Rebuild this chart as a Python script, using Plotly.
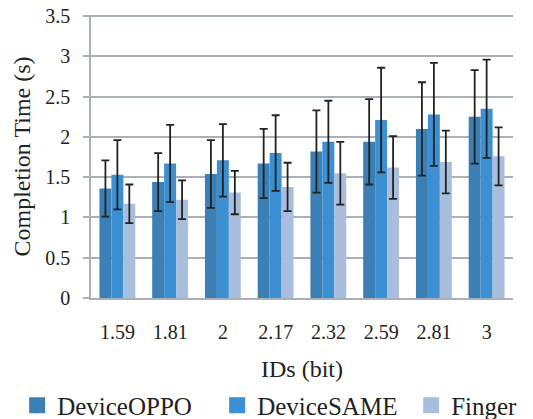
import plotly.graph_objects as go

ids = ["1.59", "1.81", "2", "2.17", "2.32", "2.59", "2.81", "3"]
oppo = [1.36, 1.44, 1.54, 1.67, 1.82, 1.94, 2.10, 2.25]
oppo_err = [0.35, 0.36, 0.42, 0.43, 0.51, 0.53, 0.58, 0.58]
same = [1.53, 1.67, 1.71, 1.80, 1.94, 2.21, 2.28, 2.35]
same_err = [0.43, 0.48, 0.45, 0.47, 0.51, 0.65, 0.64, 0.61]
finger = [1.17, 1.22, 1.31, 1.38, 1.55, 1.62, 1.69, 1.76]
finger_err = [0.24, 0.24, 0.27, 0.30, 0.39, 0.39, 0.39, 0.36]
y_ticks = [0, 0.5, 1, 1.5, 2, 2.5, 3, 3.5]
y_ticktext = ["0", "0.5", "1", "1.5", "2", "2.5", "3", "3.5"]
y_range = [0, 3.515]

names = ["DeviceOPPO", "DeviceSAME", "Finger"]
colors = ["#3b7fb5", "#3c8fd0", "#a8bedc"]
legend_widths = [155, 149, 62]
serif = "Liberation Serif, Times New Roman, serif"

fig = go.Figure()
for name, vals, errs, col in zip(names, [oppo, same, finger], [oppo_err, same_err, finger_err], colors):
    fig.add_trace(go.Bar(
        x=ids, y=vals, name=name, marker=dict(color=col, line=dict(width=0)),
        error_y=dict(type="data", array=errs, color="#222222", thickness=1.8, width=4),
        showlegend=False,
    ))
for name, col, lw in zip(names, colors, legend_widths):
    fig.add_trace(go.Scatter(
        x=[None], y=[None], mode="markers", name=name, legendwidth=lw,
        marker=dict(symbol="square", size=16, color=col),
    ))

fig.update_layout(
    width=533, height=419,
    margin=dict(l=91, r=20, t=15, b=121, autoexpand=False),
    paper_bgcolor="white", plot_bgcolor="white",
    barmode="group", bargap=0.32, bargroupgap=0,
    font=dict(family=serif, color="#222222", size=20),
    legend=dict(orientation="h", xref="paper", yref="paper",
                x=-0.175, xanchor="left", y=-0.38, yanchor="middle",
                font=dict(size=25, family=serif, color="#222222"),
                itemwidth=30, tracegroupgap=0, bgcolor="rgba(0,0,0,0)"),
    xaxis=dict(
        type="category", showline=True, linecolor="#a9b0b8", linewidth=1.5,
        ticks="", ticklabelstandoff=15,
        tickfont=dict(size=20, family=serif, color="#222222"),
        title=dict(text="IDs (bit)", font=dict(size=24, family=serif, color="#222222"), standoff=18),
    ),
    yaxis=dict(
        range=y_range, tickvals=y_ticks, ticktext=y_ticktext,
        ticklabeloverflow="allow",
        showgrid=True, gridcolor="#a9b0b8", gridwidth=1.5,
        showline=True, linecolor="#a9b0b8", linewidth=1.5,
        ticks="outside", ticklen=6, tickcolor="#a9b0b8", tickwidth=1.5,
        ticklabelstandoff=9, zeroline=False,
        tickfont=dict(size=20, family=serif, color="#222222"),
        title=dict(text="Completion Time (s)", font=dict(size=24, family=serif, color="#222222"), standoff=8),
    ),
)

fig.write_html("out.html", config={"displayModeBar": False},
               post_script="document.body.style.margin='0';")
